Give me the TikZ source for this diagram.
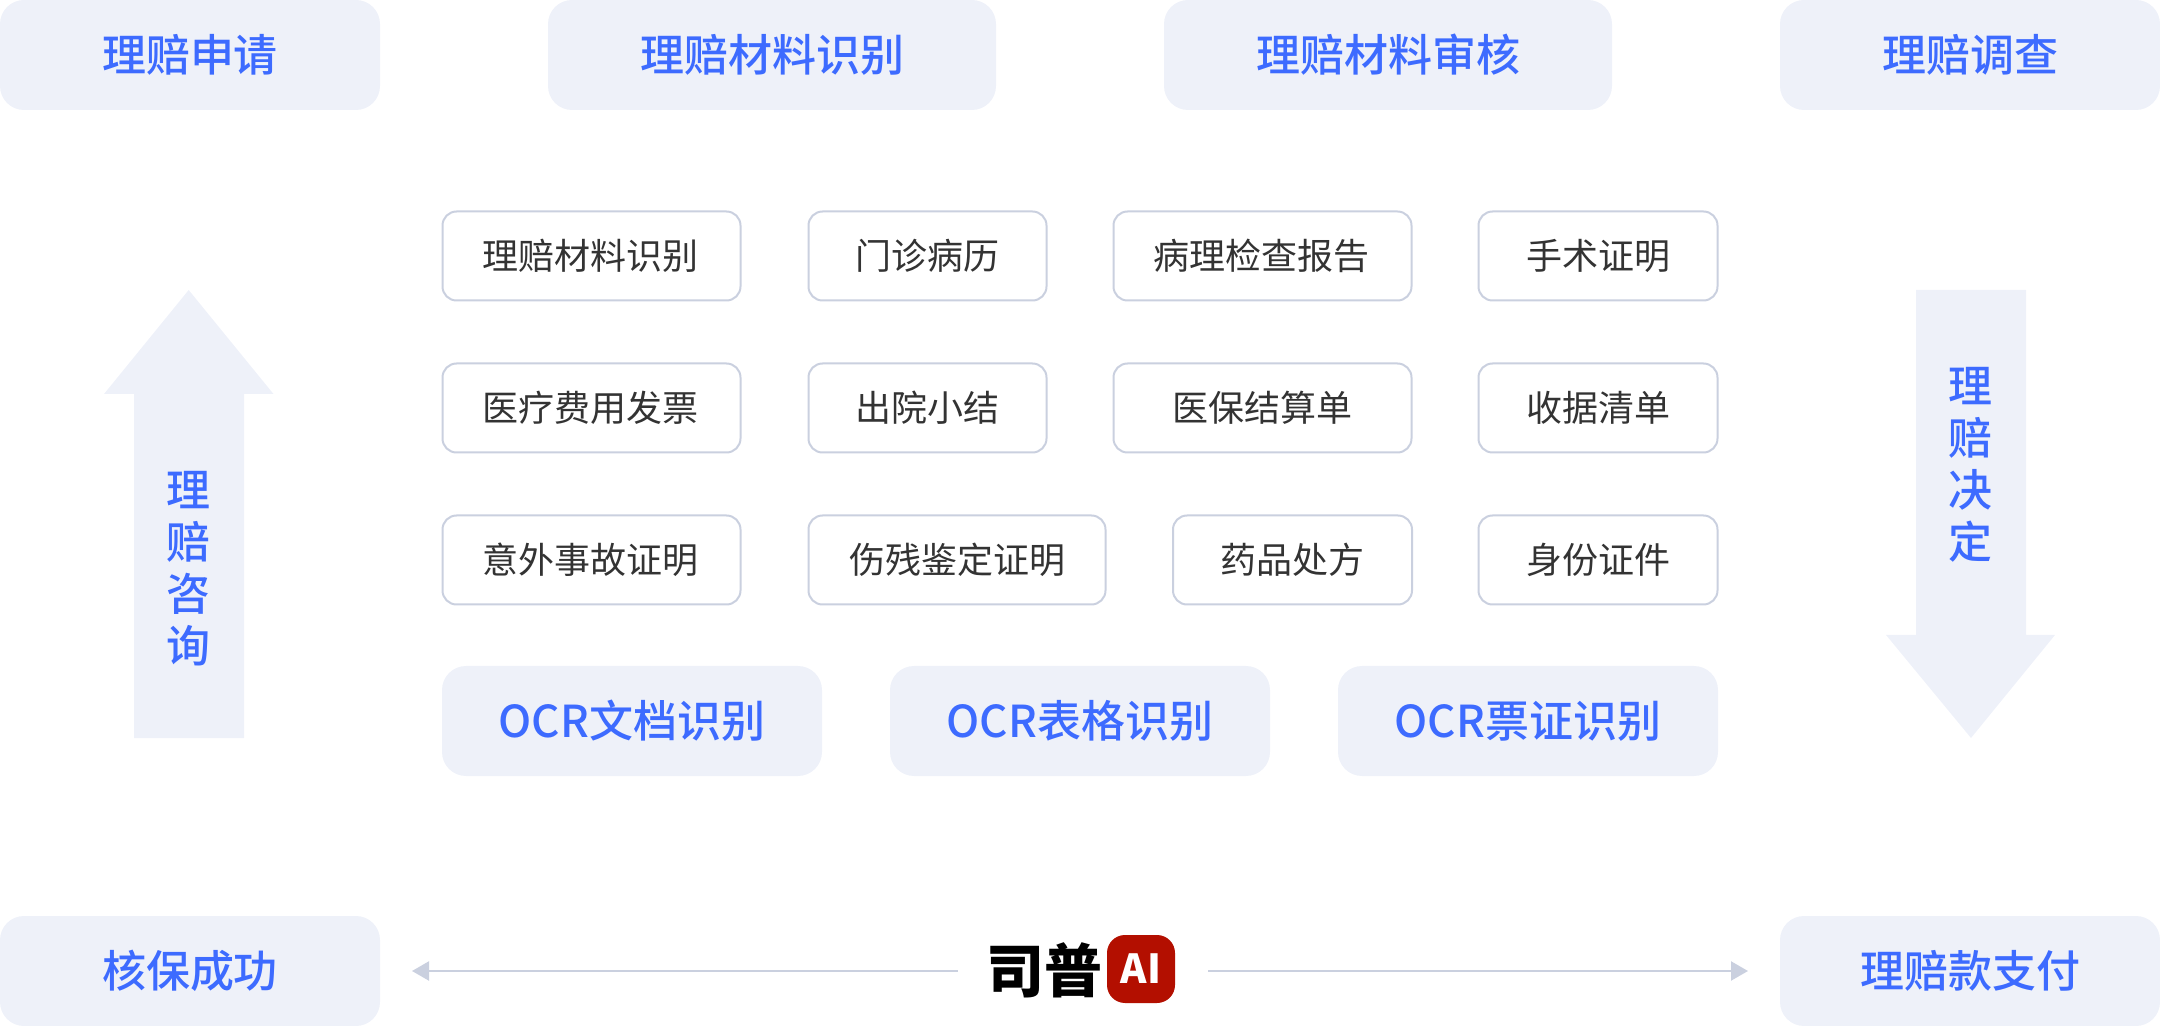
\documentclass[tikz,border=0pt]{standalone}
\usepackage{fontspec}
\setmainfont{Noto Sans CJK SC}
\newfontfamily\cjkmed{Noto Sans CJK SC Medium}
\newfontfamily\cjkblack{Noto Sans CJK SC Black}
\usetikzlibrary{arrows.meta}
\definecolor{panel}{HTML}{EEF1F9}
\definecolor{blueT}{HTML}{3D6BFF}
\definecolor{edgeC}{HTML}{CAD0DF}
\definecolor{darkT}{HTML}{333333}
\definecolor{logoR}{HTML}{B30F00}
\tikzset{
  x=0.5pt,y=-0.5pt,
  panelbox/.style={fill=panel,draw=none,rounded corners=12pt,minimum height=55pt,inner sep=0pt,text=blueT,font=\cjkmed\fontsize{22}{26}\selectfont},
  itembox/.style={fill=white,draw=edgeC,line width=1pt,rounded corners=7pt,minimum height=44.5pt,inner sep=0pt,text=darkT,font=\fontsize{18}{22}\selectfont},
  bigarrow/.style={fill=panel,draw=none},
  vlabel/.style={align=center,text=blueT,inner sep=0pt,font=\cjkmed\fontsize{22}{26}\selectfont},
  link/.style={draw=edgeC,line width=1.1pt,-{Triangle[length=8.5pt,width=9.5pt]}},
}
\begin{document}
\begin{tikzpicture}
\useasboundingbox (0,0) rectangle (2160,1026);
% top row
\node[panelbox,minimum width=190pt] (h1) at (190,55) {理赔申请};
\node[panelbox,minimum width=224pt] (h2) at (772,55) {理赔材料识别};
\node[panelbox,minimum width=224pt] (h3) at (1388,55) {理赔材料审核};
\node[panelbox,minimum width=190pt] (h4) at (1970,55) {理赔调查};
% bottom row
\node[panelbox,minimum width=190pt] (b1) at (190,971) {核保成功};
\node[panelbox,minimum width=190pt] (b2) at (1970,971) {理赔款支付};
% items
\node[itembox,minimum width=149pt] (r1a) at (591.5,256) {\hspace{-1pt}理赔材料识别};
\node[itembox,minimum width=119pt] (r1b) at (927.5,256) {门诊病历};
\node[itembox,minimum width=149pt] (r1c) at (1262.5,256) {\hspace{-1pt}病理检查报告};
\node[itembox,minimum width=119.5pt] (r1d) at (1598,256) {手术证明};
\node[itembox,minimum width=149pt] (r2a) at (591.5,408) {\hspace{-1pt}医疗费用发票};
\node[itembox,minimum width=119pt] (r2b) at (927.5,408) {出院小结};
\node[itembox,minimum width=149pt] (r2c) at (1262.5,408) {医保结算单};
\node[itembox,minimum width=119.5pt] (r2d) at (1598,408) {收据清单};
\node[itembox,minimum width=149pt] (r3a) at (591.5,560) {\hspace{-1pt}意外事故证明};
\node[itembox,minimum width=148.5pt] (r3b) at (957,560) {伤残鉴定证明};
\node[itembox,minimum width=119.5pt] (r3c) at (1292.5,560) {药品处方};
\node[itembox,minimum width=119.5pt] (r3d) at (1598,560) {身份证件};
% OCR
\node[panelbox,minimum width=190pt] (o1) at (632,721) {OCR文档识别};
\node[panelbox,minimum width=190pt] (o2) at (1080,721) {OCR表格识别};
\node[panelbox,minimum width=190pt] (o3) at (1528,721) {OCR票证识别};
% big arrows
\path[bigarrow] (188.7,290) -- (273.5,394) -- (244,394) -- (244,738) -- (134,738) -- (134,394) -- (104,394) -- cycle;
\node[vlabel] (lv) at (188.5,569) {理\\赔\\咨\\询};
\path[bigarrow] (1916,290) -- (2026,290) -- (2026,635) -- (2055,635) -- (1971,738) -- (1886,635) -- (1916,635) -- cycle;
\node[vlabel] (rv) at (1970.5,465) {理\\赔\\决\\定};
% logo
\node[inner sep=0pt,minimum width=125pt,minimum height=35pt] (logo) at (1083,971) {};
\node[inner sep=0pt,font=\cjkblack\fontsize{29}{29}\selectfont,text=black] (logotxt) at (1044,970) {司普};
\node[fill=logoR,rounded corners=9pt,minimum width=34pt,minimum height=34pt,inner sep=0pt,text=white,font=\bfseries\fontsize{20}{20}\selectfont] (logoai) at (1141,969) {AI};
\coordinate (tipL) at (412,971);
\coordinate (tipR) at (1748,971);
\draw[link] (logo.west) -- (tipL);
\draw[link] (logo.east) -- (tipR);
\end{tikzpicture}
\end{document}
